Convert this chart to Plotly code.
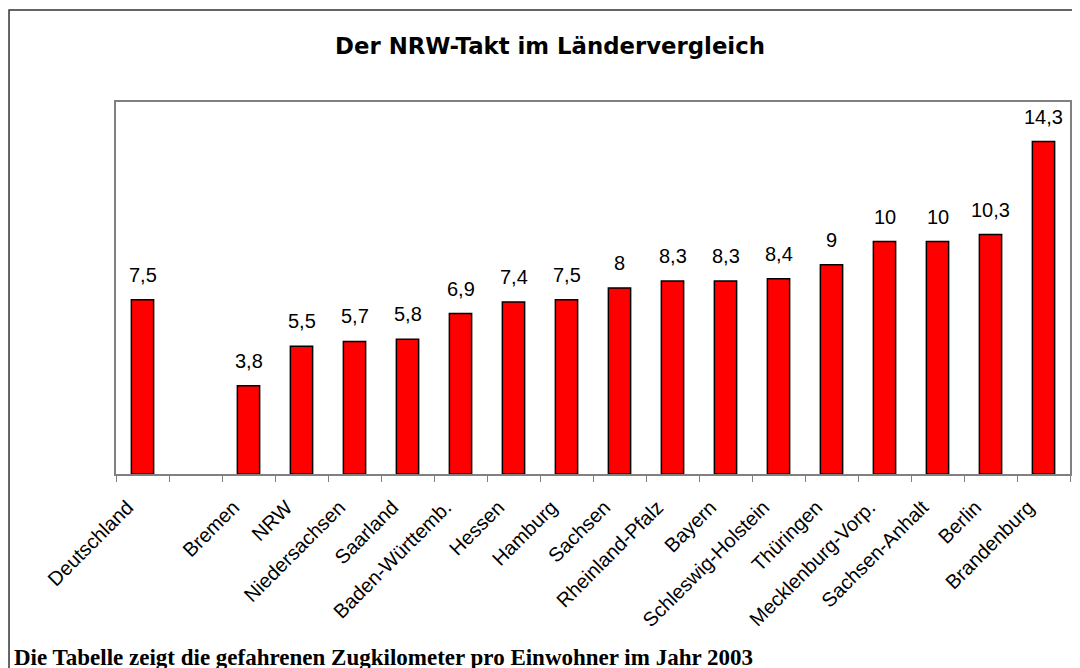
import plotly.graph_objects as go

categories = ["Deutschland", " ", "Bremen", "NRW", "Niedersachsen", "Saarland",
              "Baden-Württemb.", "Hessen", "Hamburg", "Sachsen", "Rheinland-Pfalz",
              "Bayern", "Schleswig-Holstein", "Thüringen", "Mecklenburg-Vorp.",
              "Sachsen-Anhalt", "Berlin", "Brandenburg"]
values = [7.5, None, 3.8, 5.5, 5.7, 5.8, 6.9, 7.4, 7.5, 8.0, 8.3, 8.3, 8.4, 9.0,
          10.0, 10.0, 10.3, 14.3]
labels = ["7,5", "", "3,8", "5,5", "5,7", "5,8", "6,9", "7,4", "7,5", "8", "8,3",
          "8,3", "8,4", "9", "10", "10", "10,3", "14,3"]

title_text = "Der NRW-Takt im Ländervergleich"
caption_text = "Die Tabelle zeigt die gefahrenen Zugkilometer pro Einwohner im Jahr 2003"

# page has an 8px body margin; figure origin sits at (8, 8) of the window
OFF = 8
W, H = 1080 - OFF, 668 - OFF
PL, PR, PT, PB = 116, 1072, 102, 474  # plot area in window pixels
L, R, T, B = PL - OFF, W - (PR - OFF), PT - OFF, H - (PB - OFF)
pw, ph = PR - PL, PB - PT

def px_x(x):
    return (x - PL) / pw

def px_y(y):
    return (PB - y) / ph

fig = go.Figure()
fig.add_trace(go.Bar(
    x=categories, y=values,
    marker=dict(color="#FF0000", line=dict(color="black", width=1.5)),
    hoverinfo="x+y",
))

annotations = []
for c, v, t in zip(categories, values, labels):
    if v is None:
        continue
    annotations.append(dict(x=c, y=v, xref="x", yref="y", text=t, showarrow=False,
                            yanchor="bottom", yshift=12,
                            font=dict(family="Liberation Sans, Arial", size=20, color="black")))

annotations.append(dict(x=px_x(12), y=px_y(657), xref="paper", yref="paper",
                        text="<b>" + caption_text + "</b>", showarrow=False,
                        xanchor="left", yanchor="middle",
                        font=dict(family="Liberation Serif, Times New Roman, serif", size=23, color="black")))

fig.update_layout(
    width=W, height=H,
    margin=dict(l=L, r=R, t=T, b=B),
    paper_bgcolor="white", plot_bgcolor="white",
    showlegend=False,
    bargap=0.58,
    title=dict(text="<b>" + title_text + "</b>", x=(550 - OFF) / W, xanchor="center",
               y=1 - (46 - OFF) / H, yanchor="middle", xref="container", yref="container",
               font=dict(family="DejaVu Sans, Arial", size=22.8, color="black")),
    annotations=annotations,
    shapes=[dict(type="rect", xref="paper", yref="paper",
                 x0=px_x(8.8), x1=px_x(1120), y0=px_y(720), y1=px_y(10),
                 line=dict(color="#333333", width=1.5), fillcolor="rgba(0,0,0,0)",
                 layer="below")],
)
fig.update_xaxes(type="category", showline=True, linecolor="#808080", linewidth=1.5,
                 mirror=True, ticks="outside", tickson="boundaries", ticklen=6,
                 tickcolor="#808080", tickangle=-45,
                 ticklabelstandoff=12, ticklabelshift=-15,
                 tickfont=dict(family="Liberation Sans, Arial", size=20, color="black"),
                 showgrid=False)
fig.update_yaxes(range=[0, 16], showline=True, linecolor="#808080", linewidth=1.5,
                 mirror=True, showticklabels=False, ticks="", showgrid=False,
                 zeroline=False)

fig.write_html("out.html")
